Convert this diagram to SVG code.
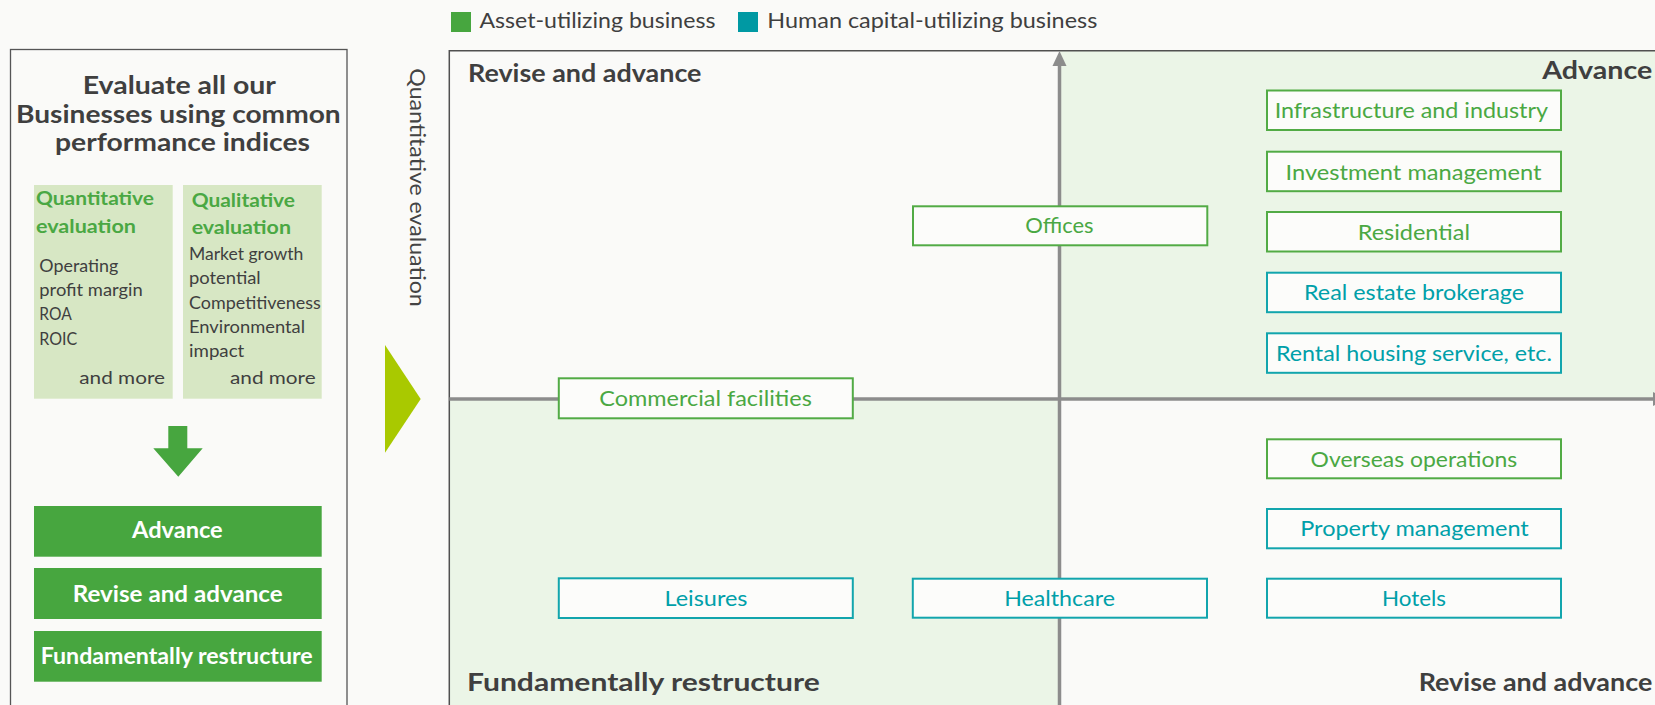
<svg xmlns="http://www.w3.org/2000/svg" width="1655" height="705" viewBox="0 0 1655 705">
<defs>
<style>
text{font-family:Lato,"Noto Sans","Liberation Sans",sans-serif;}
.dark{fill:#3f3f3f;}
.lg{font-size:21px;}
.ttl{font-size:24px;font-weight:700;}
.sub{font-size:19px;font-weight:700;fill:#4aa843;}
.body{font-size:17.5px;}
.wb{font-size:22px;font-weight:700;fill:#ffffff;}
.hd{font-size:25px;font-weight:700;}
.bt{font-size:21.5px;}
.ga{fill:#4aa843;}
.ht{fill:#00a0a9;}
.ba{fill:#fcfcfa;stroke:#52ab45;stroke-width:2;}
.bh{fill:#fcfcfa;stroke:#12a5ad;stroke-width:2;}
.axis{stroke:#8c8c8c;stroke-width:3.5;fill:none;}
</style>
<marker id="arr" markerUnits="userSpaceOnUse" viewBox="0 0 15 16" refX="0" refY="8" markerWidth="15" markerHeight="16" orient="auto">
<path d="M0,1 L15,8 L0,15 Z" fill="#8c8c8c"/>
</marker>
</defs>
<rect x="0" y="0" width="1655" height="705" fill="#fafaf8"/>

<g id="legend">
<rect x="451" y="12" width="20" height="20" fill="#47a63f"/>
<text class="lg dark" x="479.4" y="28.3" textLength="236" lengthAdjust="spacingAndGlyphs">Asset-utilizing business</text>
<rect x="738" y="12" width="20" height="20" fill="#0099a3"/>
<text class="lg dark" x="767.3" y="28.3" textLength="330" lengthAdjust="spacingAndGlyphs">Human capital-utilizing business</text>
</g>

<g id="evaluation-panel">
<rect x="10.5" y="49.5" width="336.5" height="700" fill="none" stroke="#555" stroke-width="1.3"/>
<text class="ttl dark" x="82.7" y="94" textLength="193.3" lengthAdjust="spacingAndGlyphs">Evaluate all our</text>
<text class="ttl dark" x="16" y="122.7" textLength="324.7" lengthAdjust="spacingAndGlyphs">Businesses using common</text>
<text class="ttl dark" x="55" y="151" textLength="255" lengthAdjust="spacingAndGlyphs">performance indices</text>
</g>

<g id="quantitative">
<rect x="34" y="185" width="138.7" height="213.7" fill="#d7e7c4"/>
<text class="sub" x="36" y="205" textLength="118" lengthAdjust="spacingAndGlyphs">Quantitative</text>
<text class="sub" x="36" y="232.7" textLength="100" lengthAdjust="spacingAndGlyphs">evaluation</text>
<text class="body dark" x="39.3" y="272.3" textLength="79" lengthAdjust="spacingAndGlyphs">Operating</text>
<text class="body dark" x="39.3" y="296" textLength="103.4" lengthAdjust="spacingAndGlyphs">profit margin</text>
<text class="body dark" x="39.3" y="320" textLength="32.4" lengthAdjust="spacingAndGlyphs">ROA</text>
<text class="body dark" x="39.3" y="344.7" textLength="38" lengthAdjust="spacingAndGlyphs">ROIC</text>
<text class="body dark" x="79.3" y="384.3" textLength="85.7" lengthAdjust="spacingAndGlyphs">and more</text>
</g>

<g id="qualitative">
<rect x="183" y="185" width="138.7" height="213.7" fill="#d7e7c4"/>
<text class="sub" x="191.7" y="206.7" textLength="103.3" lengthAdjust="spacingAndGlyphs">Qualitative</text>
<text class="sub" x="191.7" y="234.3" textLength="99.3" lengthAdjust="spacingAndGlyphs">evaluation</text>
<text class="body dark" x="189" y="260" textLength="114.3" lengthAdjust="spacingAndGlyphs">Market growth</text>
<text class="body dark" x="189" y="284.3" textLength="71.7" lengthAdjust="spacingAndGlyphs">potential</text>
<text class="body dark" x="189" y="308.7" textLength="131.7" lengthAdjust="spacingAndGlyphs">Competitiveness</text>
<text class="body dark" x="189" y="333.3" textLength="116" lengthAdjust="spacingAndGlyphs">Environmental</text>
<text class="body dark" x="189" y="356.7" textLength="55.3" lengthAdjust="spacingAndGlyphs">impact</text>
<text class="body dark" x="230" y="384.3" textLength="85.7" lengthAdjust="spacingAndGlyphs">and more</text>
</g>

<g id="down-arrow">
<polygon points="168.3,426 187.3,426 187.3,448.3 202.7,448.3 178.3,476.7 153.3,448.3 168.3,448.3" fill="#47a63f"/>
</g>

<g id="result-advance">
<rect x="34" y="506" width="287.7" height="50.7" fill="#47a63f"/>
<text class="wb" x="132" y="538.3" textLength="90.7" lengthAdjust="spacingAndGlyphs">Advance</text>
</g>
<g id="result-revise">
<rect x="34" y="568" width="287.7" height="51" fill="#47a63f"/>
<text class="wb" x="72.7" y="601.7" textLength="210" lengthAdjust="spacingAndGlyphs">Revise and advance</text>
</g>
<g id="result-restructure">
<rect x="34" y="631" width="287.7" height="50.7" fill="#47a63f"/>
<text class="wb" x="40.7" y="664.3" textLength="272" lengthAdjust="spacingAndGlyphs">Fundamentally restructure</text>
</g>

<g id="chevron">
<polygon points="385,345 420.7,399 385,452.7" fill="#a9c900"/>
</g>

<g id="chart">
<rect x="1059.5" y="50.7" width="600" height="348.3" fill="#ebf5e7"/>
<rect x="449.3" y="399" width="610.2" height="310" fill="#ebf5e7"/>
<path d="M449.3,710 V50.7 H1660" fill="none" stroke="#505050" stroke-width="1.5"/>
<text fill="#444" font-size="21" transform="translate(410,68.3) rotate(90)" textLength="238.4" lengthAdjust="spacingAndGlyphs">Quantitative evaluation</text>
<text class="hd dark" x="468" y="81.7" textLength="233.5" lengthAdjust="spacingAndGlyphs">Revise and advance</text>
<text class="hd dark" x="1542.3" y="79" textLength="110" lengthAdjust="spacingAndGlyphs">Advance</text>
<text class="hd dark" x="467" y="690.7" textLength="352.8" lengthAdjust="spacingAndGlyphs">Fundamentally restructure</text>
<text class="hd dark" x="1418.7" y="690.7" textLength="233.6" lengthAdjust="spacingAndGlyphs">Revise and advance</text>
</g>

<g id="connectors">
<line class="axis" x1="1059.5" y1="710" x2="1059.5" y2="66" marker-end="url(#arr)"/>
<line class="axis" x1="449.3" y1="399" x2="1653" y2="399" marker-end="url(#arr)"/>
</g>

<g id="infrastructure">
<rect class="ba" x="1267" y="90.5" width="294" height="39.5"/>
<text class="bt ga" x="1274.7" y="118.3" textLength="273.3" lengthAdjust="spacingAndGlyphs">Infrastructure and industry</text>
</g>
<g id="investment">
<rect class="ba" x="1267" y="151.7" width="294" height="39.5"/>
<text class="bt ga" x="1285.5" y="179.7" textLength="256" lengthAdjust="spacingAndGlyphs">Investment management</text>
</g>
<g id="residential">
<rect class="ba" x="1267" y="212" width="294" height="39.5"/>
<text class="bt ga" x="1357.7" y="239.5" textLength="112.3" lengthAdjust="spacingAndGlyphs">Residential</text>
</g>
<g id="brokerage">
<rect class="bh" x="1267" y="272.7" width="294" height="39.5"/>
<text class="bt ht" x="1304" y="300" textLength="220" lengthAdjust="spacingAndGlyphs">Real estate brokerage</text>
</g>
<g id="rental">
<rect class="bh" x="1267" y="333.3" width="294" height="39.5"/>
<text class="bt ht" x="1275.9" y="361" textLength="276" lengthAdjust="spacingAndGlyphs">Rental housing service, etc.</text>
</g>
<g id="offices">
<rect class="ba" x="913" y="206.3" width="294.3" height="39"/>
<text class="bt ga" x="1025.2" y="232.5" textLength="68.4" lengthAdjust="spacingAndGlyphs">Offices</text>
</g>
<g id="commercial">
<rect class="ba" x="558.8" y="378.3" width="294" height="40"/>
<text class="bt ga" x="599.3" y="405.7" textLength="212.5" lengthAdjust="spacingAndGlyphs">Commercial facilities</text>
</g>
<g id="overseas">
<rect class="ba" x="1267" y="439.3" width="294" height="39"/>
<text class="bt ga" x="1310.6" y="466.7" textLength="206.6" lengthAdjust="spacingAndGlyphs">Overseas operations</text>
</g>
<g id="property">
<rect class="bh" x="1267" y="509" width="294" height="39.3"/>
<text class="bt ht" x="1300.2" y="535.7" textLength="228.6" lengthAdjust="spacingAndGlyphs">Property management</text>
</g>
<g id="leisures">
<rect class="bh" x="558.8" y="578.3" width="294" height="39.7"/>
<text class="bt ht" x="664.5" y="605.7" textLength="83" lengthAdjust="spacingAndGlyphs">Leisures</text>
</g>
<g id="healthcare">
<rect class="bh" x="912.8" y="578.7" width="294.2" height="39"/>
<text class="bt ht" x="1004.2" y="605.7" textLength="110.7" lengthAdjust="spacingAndGlyphs">Healthcare</text>
</g>
<g id="hotels">
<rect class="bh" x="1267" y="578.7" width="294" height="39"/>
<text class="bt ht" x="1382" y="605.7" textLength="64" lengthAdjust="spacingAndGlyphs">Hotels</text>
</g>
</svg>
